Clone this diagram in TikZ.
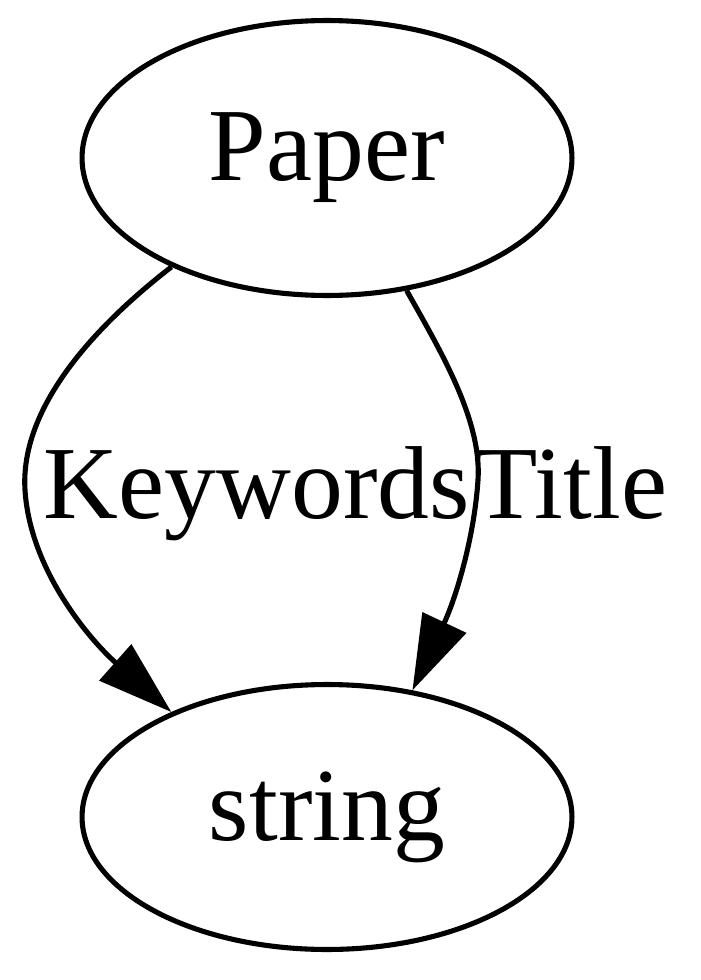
\documentclass[tikz,border=0pt]{standalone}
\usepackage{fontspec}
\setmainfont{Liberation Serif}
\usetikzlibrary{arrows.meta, shapes, positioning, calc}

\tikzset{
    typenode/.style={shape=ellipse, draw=black, line width=2.9pt,
        minimum width=9.8cm, minimum height=5.5cm, inner sep=0pt,
        font=\fontsize{59}{70}\selectfont},
    fieldedge/.style={line width=2.9pt, -{Triangle[length=1.5cm, width=0.95cm]}},
    fieldlabel/.style={font=\fontsize{59}{70}\selectfont, inner sep=0pt, anchor=base}
}

\begin{document}
\begin{tikzpicture}[x=0.02cm, y=-0.02cm]
    \useasboundingbox (0,0) rectangle (700,980);
    \node[typenode] (paper)  at (327,158) {Paper};
    \node[typenode, minimum height=5.3cm] (string) at (327,817) {string};

    % edges
    \draw[fieldedge] (paper.215) .. controls (90,330) and (20,410) .. (25,490)
        .. controls (30,570) and (90,640) .. (string.146);
    \draw[fieldedge] (paper.-59) .. controls (440,350) and (482,420) .. (478,480)
        .. controls (474,540) and (455,600) .. (string.56);

    \node[fieldlabel] (kwlabel)    at (257,518) {Keywords};
    \node[fieldlabel] (titlelabel) at (571,518) {Title};
\end{tikzpicture}
\end{document}
